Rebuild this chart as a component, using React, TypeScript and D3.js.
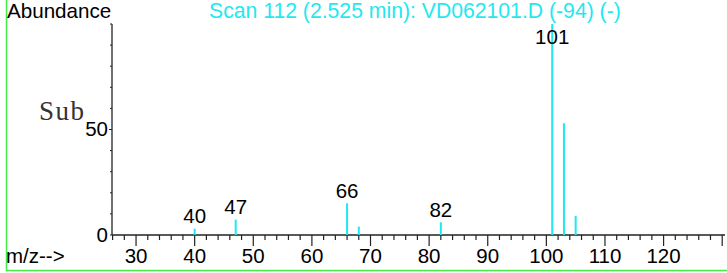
import * as d3 from 'd3'

const mz = [40, 47, 66, 68, 82, 101, 103, 105]
const abundance = [3, 7.3, 15, 4, 6, 100, 53, 9]
const labeled = [40, 47, 66, 82, 101]
const xTicks = [30, 40, 50, 60, 70, 80, 90, 100, 110, 120]
const yTicks = [0, 50]
const title = 'Scan 112 (2.525 min): VD062101.D (-94) (-)'

const W = 727
const H = 273
const CYAN = '#1fe8f0'
const FONT = 'Liberation Sans, Arial, sans-serif'

export default function App() {
  const x = d3.scaleLinear().domain([26, 130]).range([112.6, 722.2])
  const y = d3.scaleLinear().domain([0, 100]).range([235, 24])
  const x0 = 112
  const y0 = y(0)

  const minorX = d3.range(26, 131, 2)
  const minorY = d3.range(0, 101, 10)

  return (
    <svg width={W} height={H} style={{ position: 'absolute', left: 0, top: 0 }} fontFamily={FONT}>
      <rect width={W} height={H} fill="#fff" />
      {/* frame */}
      <line x1={6.5} x2={6.5} y1={0} y2={271} stroke="#44ee44" strokeWidth={1.5} />
      <line x1={6} x2={W} y1={270.5} y2={270.5} stroke="#44ee44" strokeWidth={1.5} />

      <text x={7} y={17.5} fontSize={20.6} fill="#000">Abundance</text>
      <text x={209} y={18} fontSize={21.2} fill={CYAN}>{title}</text>
      <text x={39} y={120} fontSize={27} letterSpacing={1.5} fontFamily="Liberation Serif, Times New Roman, serif" fill="#333">Sub</text>

      {/* y axis */}
      <line x1={x0} x2={x0} y1={y(100)} y2={y0} stroke="#404040" strokeWidth={1.5} />
      {minorY.map((t) => (
        <line key={t} x1={x0 - (t === 50 ? 3 : 2)} x2={x0} y1={y(t)} y2={y(t)} stroke="#222" strokeWidth={1} />
      ))}
      {yTicks.map((t) => (
        <text key={t} x={x0 - 4} y={y(t) + 6.5} fontSize={20.5} textAnchor="end" fill="#000">{t}</text>
      ))}

      {/* x axis */}
      <line x1={x0} x2={725} y1={y0} y2={y0} stroke="#222" strokeWidth={1.5} />
      {minorX.map((t) => (
        <line key={t} x1={x(t)} x2={x(t)} y1={y0} y2={y0 + (t % 10 === 0 ? 11 : 5)} stroke="#222" strokeWidth={1.2} />
      ))}
      {xTicks.map((t) => (
        <text key={t} x={x(t)} y={263} fontSize={20.5} textAnchor="middle" fill="#000">{t}</text>
      ))}
      <text x={6} y={263} fontSize={20.5} fill="#000">m/z--&gt;</text>

      {/* peaks */}
      {mz.map((m, i) => (
        <rect key={m} x={x(m) - 1} y={y(abundance[i])} width={2} height={y0 - y(abundance[i])} fill={CYAN} />
      ))}
      {mz.map((m, i) =>
        labeled.includes(m) ? (
          <text key={m} x={x(m)} y={Math.max(y(abundance[i]) - 5.5, 44)} fontSize={20.5} textAnchor="middle" fill="#000">
            {m}
          </text>
        ) : null
      )}
    </svg>
  )
}
